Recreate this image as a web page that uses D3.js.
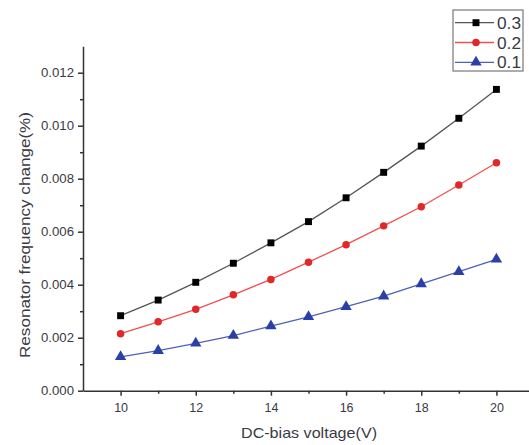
<!DOCTYPE html>
<html>
<head>
<meta charset="utf-8">
<script src="https://cdn.jsdelivr.net/npm/d3@7"></script>
<style>
  body { margin: 0; background: #fff; }
  text { font-family: Arial, "Liberation Sans", sans-serif; fill: #3a3a44; }
</style>
</head>
<body>
<svg id="chart" width="529" height="445"></svg>
<script>
// voltages and frequency changes
var voltage = [10, 11, 12, 13, 14, 15, 16, 17, 18, 19, 20];
var series03 = [0.00283, 0.00342, 0.00409, 0.00481, 0.00558, 0.00638, 0.00728, 0.00824, 0.00923, 0.01028, 0.01137];
var series02 = [0.00215, 0.00260, 0.00307, 0.00362, 0.00420, 0.00485, 0.00551, 0.00622, 0.00694, 0.00776, 0.00860];
var series01 = [0.00128, 0.00151, 0.00179, 0.00208, 0.00244, 0.00279, 0.00317, 0.00357, 0.00403, 0.00449, 0.00496];
var seriesNames = ["0.3", "0.2", "0.1"];
var xTicks = [10, 12, 14, 16, 18, 20];
var yTicks = [0, 0.002, 0.004, 0.006, 0.008, 0.010, 0.012];

var svg = d3.select("#chart");

var x = d3.scaleLinear().domain([9, 21]).range([83, 534]);
var y = d3.scaleLinear().domain([0, 0.013]).range([390.7, 46.2]);

var styles = [
    {line: "#555", fill: "#000", shape: d3.symbolSquare, size: 48},
    {line: "#f05050", fill: "#e02828", shape: d3.symbolCircle, size: 44},
    {line: "#5060b8", fill: "#2a40a8", shape: d3.symbolTriangle, size: 56}
];
var allSeries = [series03, series02, series01];

// y axis
var yAxis = svg.append("g").attr("transform", "translate(83,0)");
yAxis.call(d3.axisLeft(y).tickValues(yTicks).tickFormat(d3.format(".3f")).tickSize(5).tickSizeOuter(0));
yAxis.append("g").call(d3.axisLeft(y).tickValues(d3.range(0.001, 0.013, 0.002)).tickFormat("").tickSize(3).tickSizeOuter(0))
    .select(".domain").remove();
yAxis.selectAll(".tick text").attr("font-size", 12.5).attr("x", -9)
    .attr("textLength", 33).attr("lengthAdjust", "spacingAndGlyphs");

// x axis
var xAxis = svg.append("g").attr("transform", "translate(0,390.7)");
xAxis.call(d3.axisBottom(x).tickValues(xTicks).tickSize(5).tickSizeOuter(0));
xAxis.append("g").call(d3.axisBottom(x).tickValues([11, 13, 15, 17, 19]).tickFormat("").tickSize(3).tickSizeOuter(0))
    .select(".domain").remove();
xAxis.selectAll(".tick text").attr("font-size", 12.5).attr("y", 12).attr("dy", "0.71em");
svg.selectAll(".domain, .tick line").attr("stroke", "#333").attr("stroke-width", 1.5);

// axis titles
svg.append("text").attr("x", 309).attr("y", 438).attr("text-anchor", "middle")
    .attr("font-size", 15).attr("textLength", 136).attr("lengthAdjust", "spacingAndGlyphs")
    .text("DC-bias voltage(V)");
svg.append("text").attr("transform", "translate(30,235) rotate(-90)").attr("text-anchor", "middle")
    .attr("font-size", 15).attr("textLength", 246).attr("lengthAdjust", "spacingAndGlyphs")
    .text("Resonator frequency change(%)");

// lines and markers
var line = d3.line().x(function(d, i){ return x(voltage[i]); }).y(function(d){ return y(d); });
allSeries.forEach(function(s, k){
    var st = styles[k];
    svg.append("path").datum(s).attr("d", line)
        .attr("fill", "none").attr("stroke", st.line).attr("stroke-width", 1.3);
    svg.selectAll(".m" + k).data(s).enter().append("path")
        .attr("d", d3.symbol().type(st.shape).size(st.size))
        .attr("transform", function(d, i){ return "translate(" + x(voltage[i]) + "," + y(d) + ")"; })
        .attr("fill", st.fill);
});

// legend
var legend = svg.append("g");
legend.append("rect").attr("x", 453).attr("y", 10).attr("width", 70).attr("height", 61)
    .attr("fill", "#fff").attr("stroke", "#777").attr("stroke-width", 1.2);
seriesNames.forEach(function(name, k){
    var st = styles[k], ly = 22.7 + k * 19.8;
    legend.append("line").attr("x1", 455).attr("x2", 494).attr("y1", ly).attr("y2", ly)
        .attr("stroke", st.line).attr("stroke-width", 1.3);
    legend.append("path").attr("d", d3.symbol().type(st.shape).size(st.size))
        .attr("transform", "translate(476," + ly + ")").attr("fill", st.fill);
    legend.append("text").attr("x", 497).attr("y", ly + 6).attr("font-size", 16)
        .attr("textLength", 24).attr("lengthAdjust", "spacingAndGlyphs").text(name);
});
</script>
</body>
</html>
